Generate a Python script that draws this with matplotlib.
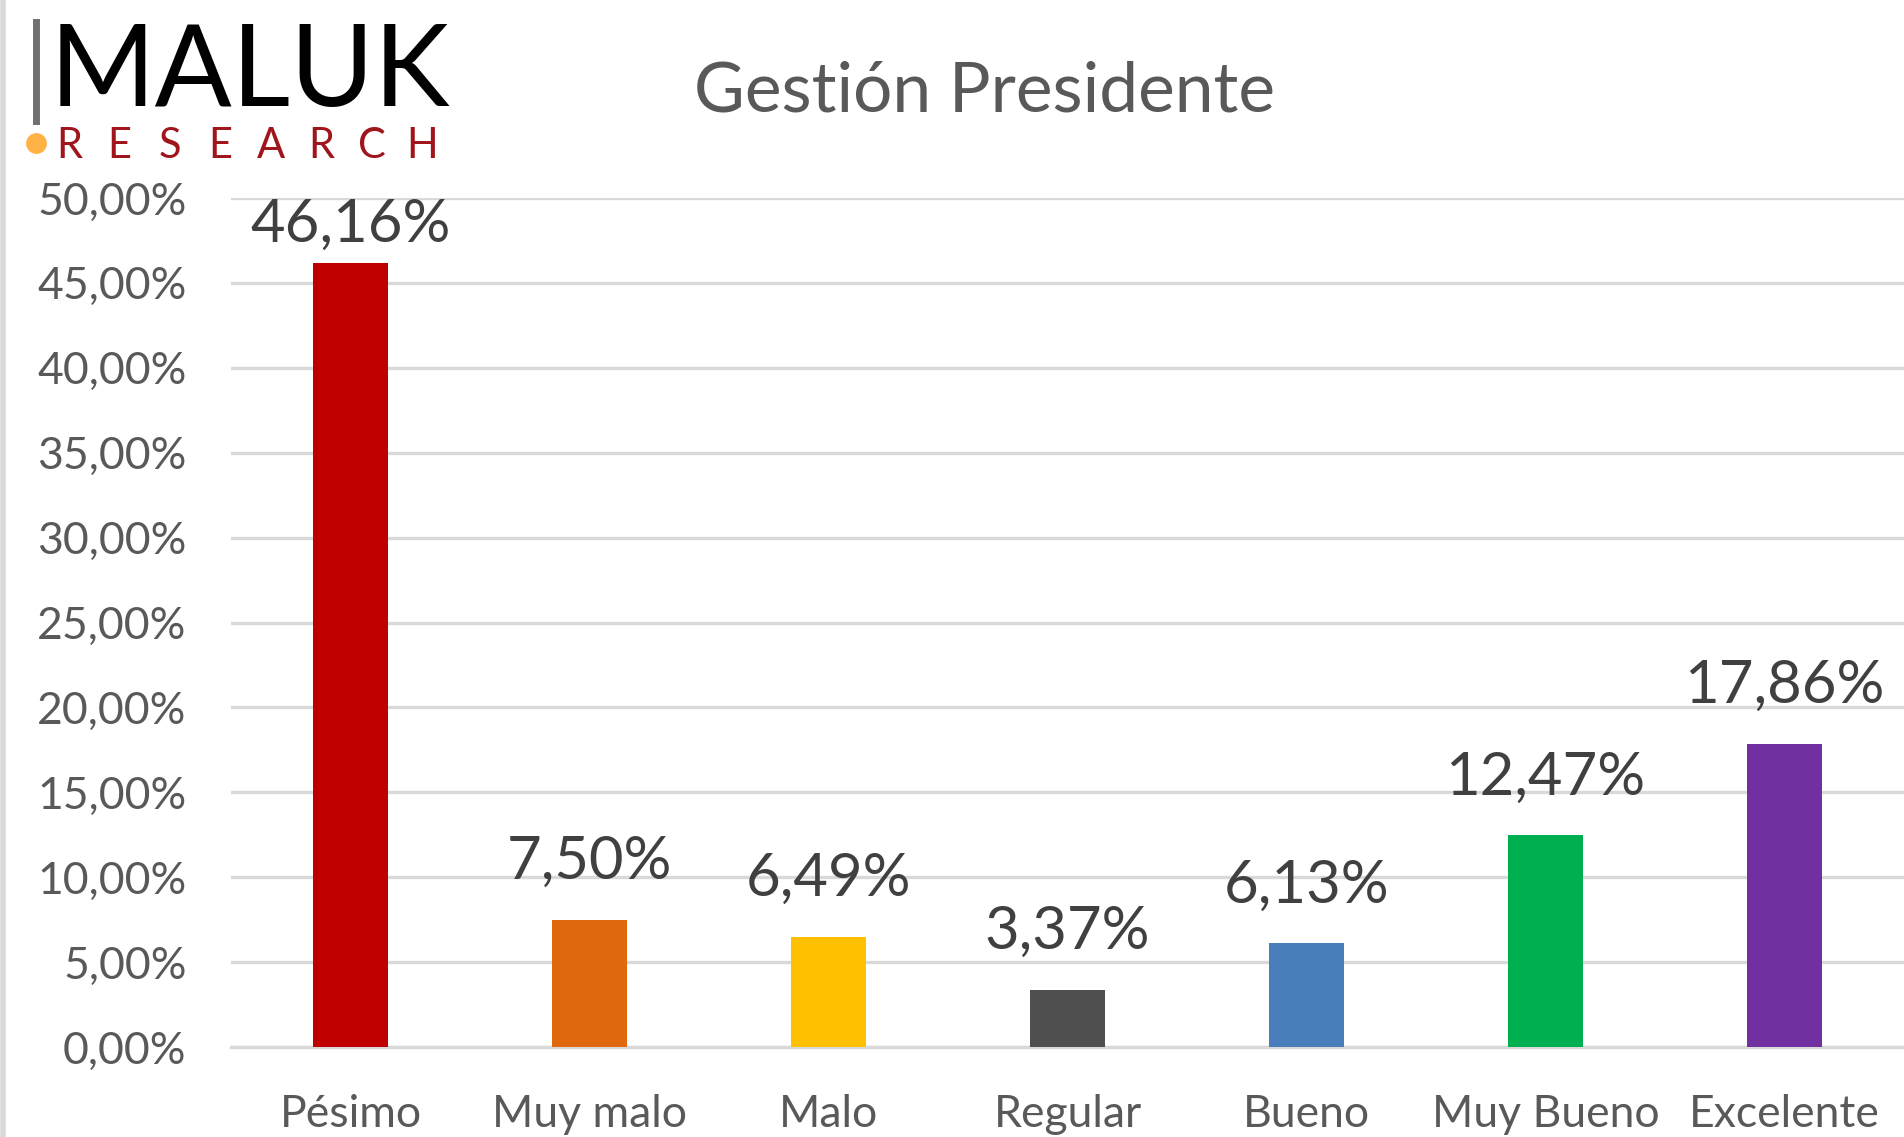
import matplotlib
matplotlib.use("Agg")
import matplotlib.pyplot as plt
from matplotlib.lines import Line2D
from matplotlib.ticker import FuncFormatter

categories = ["Pésimo", "Muy malo", "Malo", "Regular", "Bueno", "Muy Bueno", "Excelente"]
values = [46.16, 7.50, 6.49, 3.37, 6.13, 12.47, 17.86]
colors = ["#C00000", "#E0680F", "#FFC000", "#4F4F4F", "#4A7EBB", "#00B050", "#7030A0"]
yticks = [0, 5, 10, 15, 20, 25, 30, 35, 40, 45, 50]
title = "Gestión Presidente"

plt.rcParams['font.family'] = ['Lato', 'DejaVu Sans']

W, H = 1904, 1137
fig = plt.figure(figsize=(W / 100, H / 100), dpi=100)
fig.patch.set_facecolor("white")

ax = fig.add_axes([231 / W, 1 - 1047 / H, 1 - 231 / W, (1047 - 198) / H])
x = list(range(len(categories)))
ax.bar(x, values, width=0.315, color=colors, zorder=3)
ax.set_xlim(-0.5, len(categories) - 0.5)
ax.set_ylim(0, 50)
ax.set_yticks(yticks)
ax.yaxis.set_major_formatter(FuncFormatter(lambda v, p: f"{v:.2f}".replace(".", ",") + "%"))
ax.set_xticks(x)
ax.set_xticklabels(categories)
ax.grid(axis="y", color="#D9D9D9", linewidth=2.4, zorder=0)
for s in ["top", "right", "left"]:
    ax.spines[s].set_visible(False)
ax.spines["bottom"].set_color("#D9D9D9")
ax.spines["bottom"].set_linewidth(2.4)
ax.tick_params(axis="y", length=0, pad=32, labelsize=32, labelcolor="#595959")
ax.tick_params(axis="x", length=0, pad=34, labelsize=32, labelcolor="#595959")
ax.set_facecolor("none")

# data labels: above bar, but kept inside plot area (Excel-like)
ymax = ax.get_ylim()[1]
px_per_unit = (1047 - 198) / ymax
label_h_units = 62 / px_per_unit
gap_units = 22 / px_per_unit
for xi, v in zip(x, values):
    txt = f"{v:.2f}".replace(".", ",") + "%"
    if v + gap_units + label_h_units > ymax:
        ax.text(xi, ymax, txt, ha="center", va="top", fontsize=43, color="#404040")
    else:
        ax.annotate(txt, (xi, v), xytext=(0, 22), textcoords="offset points",
                    ha="center", va="bottom", fontsize=43, color="#404040")

fig.text(984 / W, 1 - 92 / H, title, ha="center", va="center", fontsize=50, color="#595959")

# logo
fig.add_artist(Line2D([36 / W, 36 / W], [1 - 22 / H, 1 - 121 / H], color="#707070", linewidth=5))
fig.text(50 / W, 1 - 74 / H, "MALUK", ha="left", va="center", fontsize=82, color="black")
letters = "RESEARCH"
for i, ch in enumerate(letters):
    fig.text((69 + i * 50.5) / W, 1 - 146 / H, ch, ha="center", va="center",
             fontsize=30, color="#A0141C")
fig.add_artist(Line2D([36 / W], [1 - 143 / H], marker="o", markersize=14,
                      color="#FFB347", linestyle="none", transform=fig.transFigure))

# left border
fig.add_artist(Line2D([3 / W, 3 / W], [0, 1], color="#D9D9D9", linewidth=4))

fig.savefig("out.png", dpi=100)
